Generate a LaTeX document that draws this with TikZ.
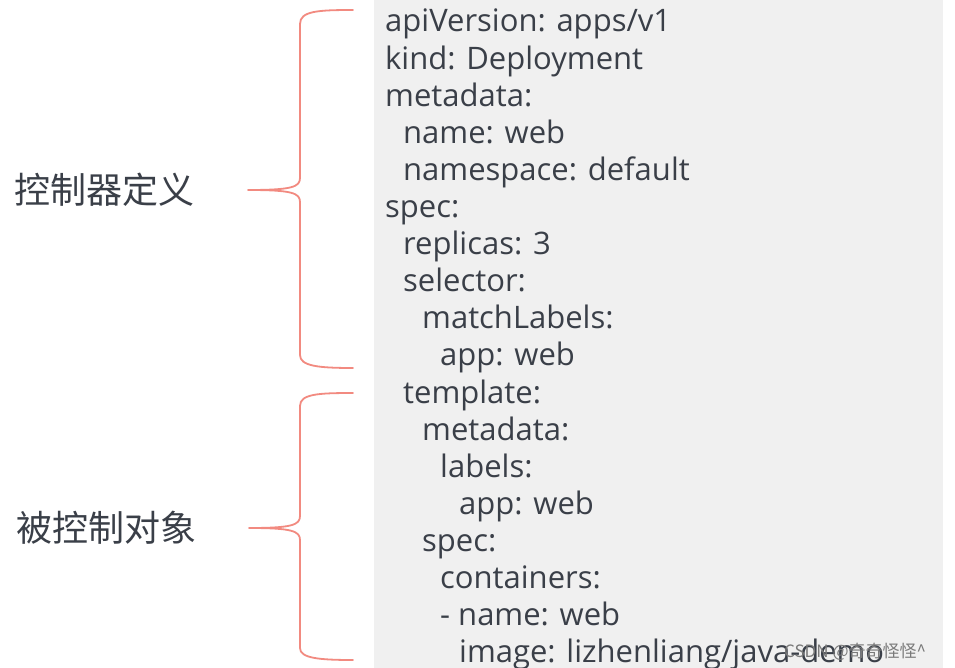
\documentclass[tikz,border=0pt]{standalone}
\usepackage{fontspec}
\setmainfont{Open Sans}
\newfontfamily\cjk{Noto Sans CJK SC}
\definecolor{codebg}{HTML}{F0F0F0}
\definecolor{codefg}{HTML}{3A3F48}
\definecolor{bracered}{HTML}{F28A80}
\definecolor{wmark}{HTML}{7A7A7A}
\begin{document}
\begin{tikzpicture}[x=1pt,y=-1pt,
  codeline/.style={anchor=base west,inner sep=0pt,text=codefg,font=\fontsize{31}{31}\selectfont},
  sidelabel/.style={anchor=west,inner sep=0pt,text=codefg,font=\cjk\fontsize{36}{36}\selectfont},
  bracestyle/.style={draw=bracered,line width=1.8pt,line cap=round,line join=round}]
\useasboundingbox (0,0) rectangle (955,668);
\fill[white] (0,0) rectangle (955,668);
\fill[codebg] (374,0) rectangle (943,668);
% code lines
\def\bl#1{32+37.1*#1}
\node[codeline] (l0)  at (385,{\bl{0}})  {apiVersion: apps/v1};
\node[codeline] (l1)  at (385,{\bl{1}})  {kind: Deployment};
\node[codeline] (l2)  at (385,{\bl{2}})  {metadata:};
\node[codeline] (l3)  at (403,{\bl{3}})  {name: web};
\node[codeline] (l4)  at (403,{\bl{4}})  {namespace: default};
\node[codeline] (l5)  at (385,{\bl{5}})  {spec:};
\node[codeline] (l6)  at (403,{\bl{6}})  {replicas: 3};
\node[codeline] (l7)  at (403,{\bl{7}})  {selector:};
\node[codeline] (l8)  at (422,{\bl{8}})  {matchLabels:};
\node[codeline] (l9)  at (440,{\bl{9}})  {app: web};
\node[codeline] (l10) at (403,{\bl{10}}) {template:};
\node[codeline] (l11) at (422,{\bl{11}}) {metadata:};
\node[codeline] (l12) at (440,{\bl{12}}) {labels:};
\node[codeline] (l13) at (459,{\bl{13}}) {app: web};
\node[codeline] (l14) at (422,{\bl{14}}) {spec:};
\node[codeline] (l15) at (440,{\bl{15}}) {containers:};
\node[codeline] (l16) at (440,{\bl{16}}) {- name: web};
\node[codeline] (l17) at (459,{\bl{17}}) {image: lizhenliang/java-demo};
% side labels
\node[sidelabel] (lab1) at (14,190) {控制器定义};
\node[sidelabel] (lab2) at (16,528) {被控制对象};
% braces
\draw[bracestyle] (353,10) .. controls (318,10) and (300,11) .. (300,24)
  -- (300,178) .. controls (300,187) and (292,190) .. (248,190)
  .. controls (292,190) and (300,193) .. (300,202)
  -- (300,355) .. controls (300,366) and (318,368) .. (353,368);
\draw[bracestyle] (353,393) .. controls (318,393) and (300,394) .. (300,406)
  -- (300,516) .. controls (300,525) and (292,528) .. (249,528)
  .. controls (292,528) and (300,531) .. (300,540)
  -- (300,648) .. controls (300,658) and (318,660) .. (353,660);
% watermark
\node[anchor=base west,inner sep=0pt,text=wmark,font=\cjk\fontsize{17}{17}\selectfont] (wm) at (784,657) {CSDN @奇奇怪怪\^{}};
\end{tikzpicture}
\end{document}
